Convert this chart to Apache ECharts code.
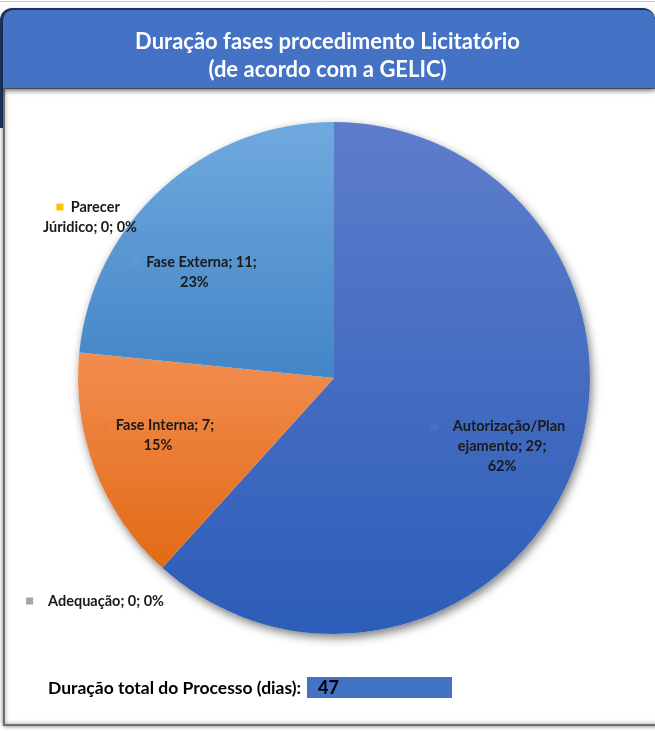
<!DOCTYPE html>
<html>
<head>
<meta charset="utf-8">
<script src="https://cdn.jsdelivr.net/npm/echarts@6/dist/echarts.min.js"></script>
<style>
  html, body { margin: 0; padding: 0; background: #fff; }
  #grafico { width: 655px; height: 731px; }
</style>
</head>
<body>
<div id="grafico"></div>
<script>
    // fases do procedimento e duracao (dias)
    var fases = ['Autorização/Planejamento', 'Adequação', 'Fase Interna', 'Parecer Júridico', 'Fase Externa'];
    var dias = [29, 0, 7, 0, 11];

    var cores = ['#4472C4', '#A5A5A5', '#ED7D31', '#FFC000', '#5B9BD5'];
    var corTopo = ['#5D7DCB', '#B5B5B5', '#F28D50', '#FFCB3A', '#70A9DE'];
    var corBase = ['#2C5DB8', '#979797', '#E26A14', '#F0B400', '#4385C7'];
    // largura e quebra de cada rotulo
    var larguras = [149, 220, 150, 112, 150];
    var quebras = ['breakAll', 'break', 'break', 'break', 'break'];
    // pequeno ajuste fino dos rotulos internos
    var ajuste = [[3, 5], [0, 0], [-11, -6], [0, 0], [-21, 25]];
    var total = dias.reduce(function (a, b) { return a + b; }, 0);

    var cx = 334, cy = 378, raio = 256;
    // rotulos das fases com zero dias ficam fora da pizza
    var posZero = { 1: [99, 601], 3: [90, 217] };

    var rich = {};
    cores.forEach(function (c, i) {
        rich['k' + i] = { width: 7, height: 7, backgroundColor: c };
    });

    var dados = fases.map(function (f, i) {
        return {
            name: f,
            value: dias[i],
            itemStyle: {
                color: new echarts.graphic.LinearGradient(0, 0, 0, 1, [
                    { offset: 0, color: corTopo[i] },
                    { offset: 1, color: corBase[i] }
                ])
            },
            label: { width: larguras[i], overflow: quebras[i] }
        };
    });

    var grafico = echarts.init(document.getElementById('grafico'));
    var option = {
        animation: false,
        title: {
            text: 'Duração fases procedimento Licitatório\n(de acordo com a GELIC)',
            left: 'center',
            top: 23,
            textStyle: {
                color: '#fff',
                fontFamily: 'Lato',
                fontWeight: 'bold',
                fontSize: 22,
                lineHeight: 28
            }
        },
        graphic: [
            { type: 'rect', z: -10, shape: { x: 0, y: 8, width: 655, height: 120, r: [12, 12, 0, 0] }, style: { fill: '#1F3864' } },
            { type: 'rect', z: -9, shape: { x: 4, y: 88, width: 660, height: 637 },
              style: { fill: '#fff', stroke: '#6d6d6d', lineWidth: 2, shadowBlur: 4, shadowColor: 'rgba(0,0,0,0.5)' } },
            { type: 'rect', z: -8, shape: { x: 3, y: 10, width: 652, height: 78, r: [10, 10, 0, 0] },
              style: { fill: '#4472C4', shadowBlur: 6, shadowOffsetY: 2, shadowColor: 'rgba(0,0,0,0.5)' } },
            { type: 'line', z: -10, shape: { x1: 0, y1: 1.5, x2: 655, y2: 1.5 }, style: { stroke: '#c8c8c8', lineWidth: 1 } },
            { type: 'text', left: 48, top: 679,
              style: { text: 'Duração total do Processo (dias):', fill: '#000', font: 'bold 17.5px Lato' } },
            { type: 'rect', shape: { x: 307, y: 677, width: 145, height: 21 }, style: { fill: '#4472C4' } },
            { type: 'text', left: 318, top: 679,
              style: { text: String(total), fill: '#000', font: 'bold 18px Lato' } }
        ],
        series: [
            {
                // sombra da pizza
                type: 'pie',
                silent: true,
                z: 1,
                center: [cx, cy],
                radius: [0, raio],
                data: [total],
                label: { show: false },
                labelLine: { show: false },
                itemStyle: { color: '#fff', shadowBlur: 10, shadowOffsetX: 2, shadowOffsetY: 4, shadowColor: 'rgba(0,0,0,0.5)' }
            },
            {
                name: 'Duração',
                type: 'pie',
                z: 2,
                center: [cx, cy],
                radius: [0, raio],
                startAngle: 90,
                clockwise: true,
                percentPrecision: 0,
                data: dados,
                label: {
                    show: true,
                    position: 'inside',
                    color: '#1a1a1a',
                    fontFamily: 'Lato',
                    fontWeight: 'bold',
                    fontSize: 14.5,
                    lineHeight: 20,
                    align: 'center',
                    formatter: function (p) {
                        // o percentual vai para a linha de baixo nas fatias com valor
                        var sep = p.value > 0 ? ';\n' : '; ';
                        return '{k' + p.dataIndex + '|}  ' + p.name + '; ' + p.value + sep + p.percent + '%';
                    },
                    rich: rich
                },
                labelLine: { show: false },
                labelLayout: function (p) {
                    var z = posZero[p.dataIndex];
                    if (z) {
                        return { x: z[0], y: z[1], align: 'center', verticalAlign: 'middle' };
                    }
                    var lx = p.labelRect.x + p.labelRect.width / 2;
                    var ly = p.labelRect.y + p.labelRect.height / 2;
                    var a = ajuste[p.dataIndex];
                    return {
                        x: cx + (lx - cx) * 1.35 + a[0],
                        y: cy + (ly - cy) * 1.35 + a[1],
                        align: 'center',
                        verticalAlign: 'middle'
                    };
                }
            }
        ]
    };
    grafico.setOption(option);
</script>
</body>
</html>
